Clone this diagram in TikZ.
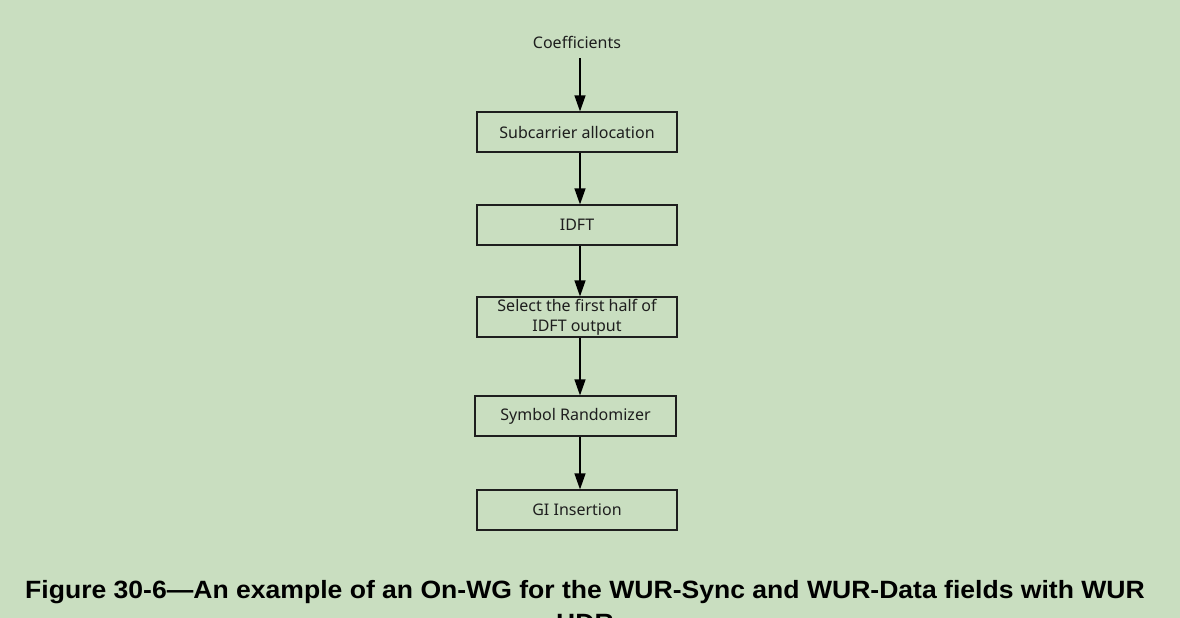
\documentclass[tikz,border=0pt]{standalone}
\usepackage{fontspec}
\setmainfont{Noto Sans}
\newfontfamily\capfont{Liberation Sans}
\usetikzlibrary{arrows.meta}
\definecolor{bg}{RGB}{201,222,192}
\definecolor{ink}{RGB}{30,30,30}
\begin{document}
\begin{tikzpicture}[x=1pt,y=-1pt,
  blk/.style={draw=ink, line width=1.2pt, minimum width=200pt, minimum height=40pt,
    inner sep=0pt, font=\fontsize{16}{20}\selectfont, align=center, text=ink},
  arr/.style={-{Triangle[length=16pt,width=11pt]}, line width=1.3pt, draw=black},
  captxt/.style={font=\capfont\bfseries\fontsize{25}{33}\selectfont, anchor=base, inner sep=0pt}]
\fill[bg] (0,0) rectangle (1180,618);
\useasboundingbox (0,0) rectangle (1180,618);
\clip (0,0) rectangle (1180,618);
\coordinate (ax) at (580,0);
\node[font=\fontsize{16}{19}\selectfont, text=ink, inner xsep=0pt, inner ysep=10pt] (coef) at (577,42) {Coefficients};
\node[blk] (b1) at (577,132) {Subcarrier allocation};
\node[blk] (b2) at (577,225) {IDFT};
\node[blk] (b3) at (577,317) {Select the first half of\\IDFT output};
\node[blk, minimum width=201pt] (b4) at (575.5,416) {Symbol Randomizer};
\node[blk] (b5) at (577,510) {GI Insertion};
\draw[arr] (coef.south -| ax) -- (b1.north -| ax);
\draw[arr] (b1.south -| ax) -- (b2.north -| ax);
\draw[arr] (b2.south -| ax) -- (b3.north -| ax);
\draw[arr] (b3.south -| ax) -- (b4.north -| ax);
\draw[arr] (b4.south -| ax) -- (b5.north -| ax);
\node[captxt] (cap1) at (585,598) {\scalebox{1.062}[1]{Figure 30-6—An example of an On-WG for the WUR-Sync and WUR-Data fields with WUR}};
\node[captxt] (cap2) at (585,631) {\scalebox{1.062}[1]{HDR}};
\end{tikzpicture}
\end{document}
